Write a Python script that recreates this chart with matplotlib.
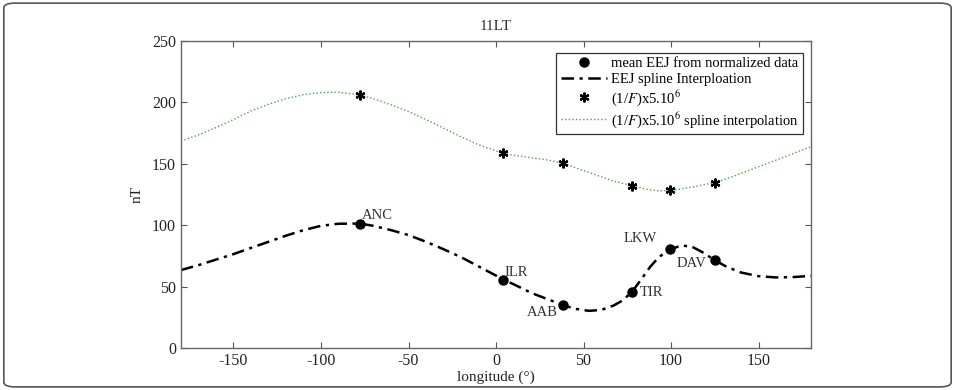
import matplotlib
matplotlib.use("Agg")
import matplotlib.pyplot as plt
from matplotlib.patches import FancyBboxPatch

plt.rcParams['font.family'] = ['Liberation Serif', 'DejaVu Serif']
plt.rcParams['mathtext.fontset'] = 'stix'
plt.rcParams['axes.unicode_minus'] = False

# station data (longitude, mean EEJ, (1/F)x5.10^6)
stations = ['ANC', 'ILR', 'AAB', 'TIR', 'LKW', 'DAV']
station_lon = [-77.5, 4.2, 38.3, 77.5, 99.2, 125.2]
eej_mean = [101.4, 55.7, 35.0, 45.4, 80.3, 71.3]
inv_f = [206.0, 158.5, 150.5, 132.3, 128.3, 134.7]

# spline curves
eej_curve_lon = [-180, -170, -160, -150, -140, -130, -120, -110, -100, -90, -78,
                 -70, -60, -50, -40, -30, -20, -10, 0, 4.2, 10, 20, 30, 38.3, 45,
                 53, 60, 67, 72, 77.5, 83, 88, 93, 99.2, 106, 112, 118, 125.2,
                 132, 140, 150, 160, 170, 180]
eej_curve = [63.5, 67.5, 72, 76.5, 81.5, 86.5, 91.5, 96, 99.5, 101.2, 101.4,
             99.5, 96, 92, 86.5, 80.5, 74, 66.5, 59, 55.7, 52, 45, 39.5, 35, 32,
             30.3, 31, 34.5, 38.5, 45.4, 56, 66, 74, 80.3, 83.5, 82.5, 78, 71.3,
             66, 61.5, 58.5, 57.5, 57.8, 58.8]
inv_f_curve_lon = [-180, -170, -160, -150, -140, -130, -120, -110, -100, -90, -78,
                   -70, -60, -50, -40, -30, -20, -10, 0, 4.2, 10, 20, 30, 38.3, 48,
                   57, 67, 77.5, 85, 92, 99.2, 105, 112, 118, 125.2, 135, 148, 160,
                   170, 180]
inv_f_curve = [168.5, 173.5, 179.5, 186, 193, 198.5, 203, 206.3, 208, 208.3, 206,
               203, 198, 192.5, 186, 179, 172, 165.5, 160.5, 158.5, 157, 155, 153,
               150.5, 145.5, 141, 136, 132.3, 129.5, 128, 128.3, 129.5, 131, 132.8,
               134.7, 139.5, 146.5, 153, 158.5, 164]

# label offsets in points and alignment
label_offsets = [(1, 6, 'left'), (1, 5, 'left'), (-4, -5, 'right'),
                 (6, 0, 'left'), (-9, 8, 'right'), (-6, -2, 'right')]

fig = plt.figure(figsize=(9.55, 3.9), dpi=100)
ax = fig.add_axes([0.1895, 0.1075, 0.6598, 0.7875])

ax.plot(station_lon, eej_mean, 'o', color='black', markersize=6.5,
        label='mean EEJ from normalized data', zorder=3)
ax.plot(eej_curve_lon, eej_curve, color='black', linewidth=1.8,
        linestyle=(0, (5, 2.2, 1.3, 2.2)), label='EEJ spline Interploation')
ax.plot(station_lon, inv_f, linestyle='none', marker=(6, 2, 0), color='black',
        markersize=7, markeredgewidth=1.6, label=r'(1/$F$)x5.10$^{6}$', zorder=3)
ax.plot(inv_f_curve_lon, inv_f_curve, color='#4fa04f', linewidth=1.0,
        linestyle=(0, (1, 1.6)), label=r'(1/$F$)x5.10$^{6}$ spline interpolation')

for name, lon, val, (dx, dy, ha) in zip(stations, station_lon, eej_mean, label_offsets):
    ax.annotate(name, (lon, val), xytext=(dx, dy), textcoords='offset points',
                ha=ha, va='center', fontsize=10.5, color='#333333')

ax.set_xlim(-180, 180)
ax.set_ylim(0, 250)
ax.set_xticks([-150, -100, -50, 0, 50, 100, 150])
ax.set_yticks([0, 50, 100, 150, 200, 250])
ax.tick_params(direction='in', top=True, right=True, labelsize=11.5,
               length=4, color='#555555', labelcolor='#222222')
for s in ax.spines.values():
    s.set_color('#666666')
    s.set_linewidth(1.0)

ax.set_title('11LT', fontsize=11, color='#333333', pad=8)
ax.set_xlabel('longitude (°)', fontsize=11, color='#222222', labelpad=1)
ax.set_ylabel('nT', fontsize=11, color='#222222', labelpad=6)

leg = ax.legend(loc='upper right', bbox_to_anchor=(0.999, 0.985), fontsize=10.5,
                handlelength=3.2, handletextpad=0.25, borderpad=0.3,
                labelspacing=0.15, fancybox=False, framealpha=1)
leg.get_frame().set_edgecolor('#333333')
leg.get_frame().set_linewidth(0.9)

# outer frame of the figure
frame = FancyBboxPatch((0.004, 0.008), 0.992, 0.984, transform=fig.transFigure,
                       boxstyle='round,pad=0,rounding_size=0.012',
                       fill=False, edgecolor='#555555', linewidth=1.2)
fig.patches.append(frame)

fig.savefig('out.png', dpi=100)
